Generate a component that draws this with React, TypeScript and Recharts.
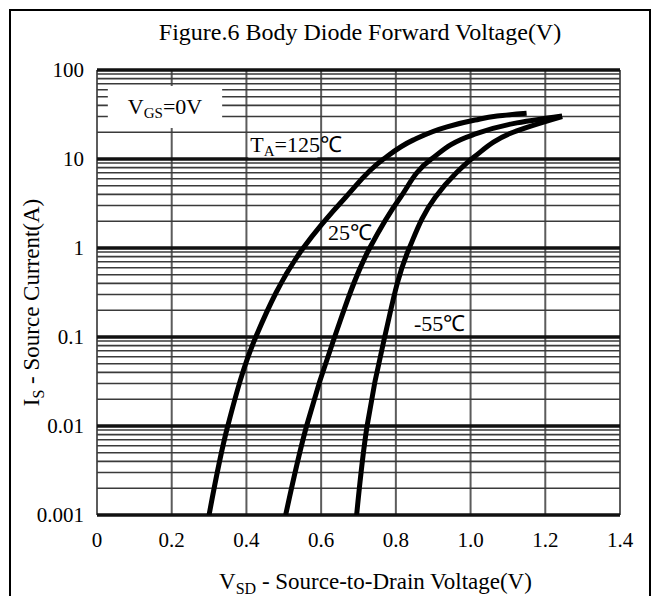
import React from 'react';
import {
  LineChart,
  Line,
  XAxis,
  YAxis,
  CartesianGrid,
  ReferenceArea,
  Label,
} from 'recharts';

// axis ticks
const VOLT_TICKS = [0, 0.2, 0.4, 0.6, 0.8, 1.0, 1.2, 1.4];
const DECADES = [0.001, 0.01, 0.1, 1, 10, 100];
const MINOR_STEPS = [2, 3, 4, 5, 6, 7, 8, 9];

// curves: v = V_SD (V), i = I_S (A)
const curve125 = [
  { v: 0.3, i: 0.001 },
  { v: 0.35, i: 0.01 },
  { v: 0.425, i: 0.1 },
  { v: 0.552, i: 1 },
  { v: 0.665, i: 3.7 },
  { v: 0.767, i: 10 },
  { v: 0.846, i: 16.3 },
  { v: 0.937, i: 23 },
  { v: 1.012, i: 27.4 },
  { v: 1.071, i: 30.4 },
  { v: 1.15, i: 32.6 },
];

const curve25 = [
  { v: 0.505, i: 0.001 },
  { v: 0.561, i: 0.01 },
  { v: 0.636, i: 0.1 },
  { v: 0.73, i: 1 },
  { v: 0.812, i: 3.7 },
  { v: 0.895, i: 10 },
  { v: 1.005, i: 18.6 },
  { v: 1.114, i: 25 },
  { v: 1.245, i: 30.4 },
];

const curveMinus55 = [
  { v: 0.695, i: 0.001 },
  { v: 0.723, i: 0.01 },
  { v: 0.77, i: 0.1 },
  { v: 0.836, i: 1 },
  { v: 0.905, i: 3.7 },
  { v: 0.962, i: 7 },
  { v: 1.01, i: 10.6 },
  { v: 1.114, i: 20 },
  { v: 1.245, i: 30 },
];

const MINORS = DECADES.slice(0, -1).flatMap((d) => MINOR_STEPS.map((m) => +(d * m).toPrecision(3)));

const FONT = '"Liberation Serif", "Times New Roman", serif';

const XTitle = ({ viewBox }: any) => {
  const cx = viewBox.x + viewBox.width / 2 + 17;
  const cy = viewBox.y + 74;
  return (
    <text x={cx} y={cy} textAnchor="middle" fontFamily={FONT} fontSize={23} fill="#000">
      V<tspan dy={5} fontSize={16}>SD</tspan>
      <tspan dy={-5}> - Source-to-Drain Voltage(V)</tspan>
    </text>
  );
};

const YTitle = ({ viewBox }: any) => {
  const cx = viewBox.x + 22;
  const cy = viewBox.y + viewBox.height / 2 + 10;
  return (
    <text
      x={cx}
      y={cy}
      transform={`rotate(-90, ${cx}, ${cy})`}
      textAnchor="middle"
      fontFamily={FONT}
      fontSize={23}
      fill="#000"
    >
      I<tspan dy={5} fontSize={16}>S</tspan>
      <tspan dy={-5}> - Source Current(A)</tspan>
    </text>
  );
};

const VgsNote = ({ viewBox }: any) => (
  <text
    x={viewBox.x + viewBox.width / 2}
    y={viewBox.y + viewBox.height / 2 + 7}
    textAnchor="middle"
    fontFamily={FONT}
    fontSize={22}
    fill="#000"
  >
    V<tspan dy={4} fontSize={15}>GS</tspan>
    <tspan dy={-4}>=0V</tspan>
  </text>
);

const TaNote = ({ viewBox }: any) => (
  <text x={viewBox.x + 2} y={viewBox.y + viewBox.height / 2 + 7} fontFamily={FONT} fontSize={22} fill="#000">
    T<tspan dy={4} fontSize={15}>A</tspan>
    <tspan dy={-4}>=125℃</tspan>
  </text>
);

const simpleNote = (txt: string) => ({ viewBox }: any) => (
  <text x={viewBox.x + 2} y={viewBox.y + viewBox.height / 2 + 7} fontFamily={FONT} fontSize={22} fill="#000">
    {txt}
  </text>
);

export default function App() {
  return (
    <div style={{ position: 'absolute', left: 0, top: 0, width: 655, height: 596, background: '#fff', overflow: 'hidden' }}>
      <div
        style={{
          position: 'absolute',
          left: 9,
          top: 9,
          width: 642,
          height: 620,
          border: '2px solid #000',
          boxSizing: 'border-box',
        }}
      />
      <div
        style={{
          position: 'absolute',
          left: 0,
          top: 19,
          width: 720,
          textAlign: 'center',
          fontFamily: FONT,
          fontSize: 24,
          lineHeight: '26px',
          color: '#000',
        }}
      >
        Figure.6 Body Diode Forward Voltage(V)
      </div>
      <div style={{ position: 'absolute', left: 0, top: 0 }}>
        <LineChart
          width={655}
          height={596}
          margin={{ top: 70, right: 35, bottom: 41, left: 17 }}
          style={{ fontFamily: FONT }}
        >
          <CartesianGrid horizontal={false} verticalValues={VOLT_TICKS} stroke="#5c5c5c" strokeWidth={2} />
          <CartesianGrid vertical={false} horizontalValues={MINORS} stroke="#3a3a3a" strokeWidth={1.6} />
          <CartesianGrid vertical={false} horizontalValues={DECADES} stroke="#111" strokeWidth={3.5} />
          <XAxis
            type="number"
            dataKey="v"
            domain={[0, 1.4]}
            ticks={VOLT_TICKS}
            interval={0}
            allowDataOverflow
            height={40}
            tickLine={false}
            axisLine={false}
            tickSize={0}
            tickMargin={17}
            tick={{ fill: '#000', fontSize: 21, fontFamily: FONT }}
            tickFormatter={(v: number) => (v === 0 ? '0' : v.toFixed(1))}
          >
            <Label content={XTitle} />
          </XAxis>
          <YAxis
            type="number"
            scale="log"
            domain={[0.001, 100]}
            ticks={DECADES}
            interval={0}
            allowDataOverflow
            width={80}
            tickLine={false}
            axisLine={false}
            tickSize={0}
            tickMargin={13}
            tick={{ fill: '#000', fontSize: 21, fontFamily: FONT }}
            tickFormatter={(v: number) => String(v)}
          >
            <Label content={YTitle} />
          </YAxis>
          <ReferenceArea x1={0.029} x2={0.335} y1={22.3} y2={66} fill="#fff" fillOpacity={1} stroke="none" label={{ content: VgsNote }} />
          <ReferenceArea x1={0.405} x2={0.59} y1={10.4} y2={19.6} fill="#fff" fillOpacity={1} stroke="none" label={{ content: TaNote }} />
          <ReferenceArea x1={0.613} x2={0.745} y1={1.12} y2={1.96} fill="#fff" fillOpacity={1} stroke="none" label={{ content: simpleNote('25℃') }} />
          <ReferenceArea x1={0.843} x2={0.99} y1={0.108} y2={0.186} fill="#fff" fillOpacity={1} stroke="none" label={{ content: simpleNote('-55℃') }} />
          <Line data={curve125} dataKey="i" type="monotoneY" stroke="#000" strokeWidth={5} dot={false} isAnimationActive={false} />
          <Line data={curve25} dataKey="i" type="monotoneY" stroke="#000" strokeWidth={5} dot={false} isAnimationActive={false} />
          <Line data={curveMinus55} dataKey="i" type="monotoneY" stroke="#000" strokeWidth={5} dot={false} isAnimationActive={false} />
        </LineChart>
      </div>
    </div>
  );
}
